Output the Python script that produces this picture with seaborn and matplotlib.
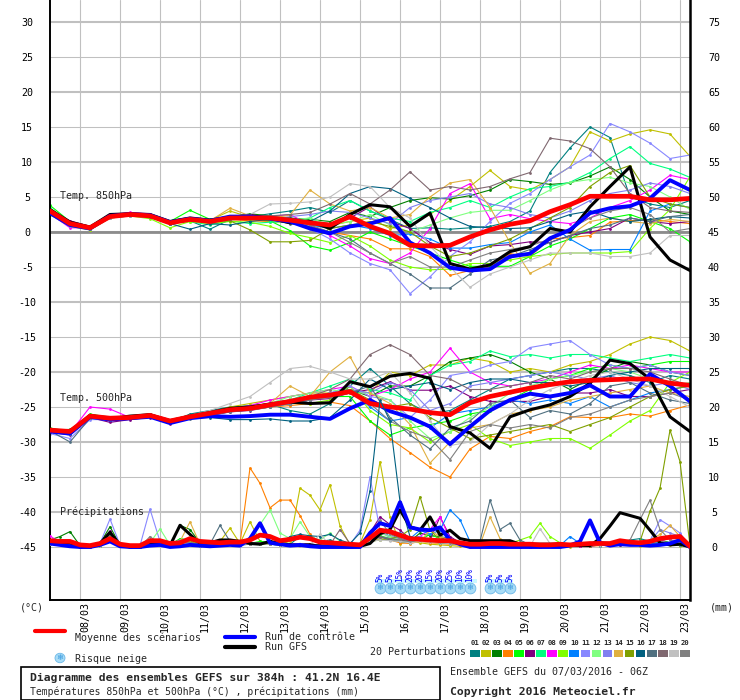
import numpy as np
import pandas as pd
import matplotlib
matplotlib.use("Agg")
import matplotlib.pyplot as plt
import seaborn as sns
from matplotlib.patches import Rectangle, Circle
from matplotlib.lines import Line2D

# ---------------- data ----------------
hours12 = list(range(0, 385, 12))   # 07/03 06Z + n*12h
hours6 = list(range(0, 385, 6))
date_labels = ['08/03', '09/03', '10/03', '11/03', '12/03', '13/03', '14/03', '15/03',
               '16/03', '17/03', '18/03', '19/03', '20/03', '21/03', '22/03', '23/03']
day_hours = [18 + 24 * d for d in range(16)]
members = ['01', '02', '03', '04', '05', '06', '07', '08', '09', '10',
           '11', '12', '13', '14', '15', '16', '17', '18', '19', '20']
member_colors = ['#008080', '#c0c000', '#008000', '#ff8000', '#00ff00', '#800080', '#00ff80',
                 '#ff00ff', '#80ff00', '#0080ff', '#8888ff', '#80ff80', '#8080f0', '#e0b040',
                 '#80a000', '#006080', '#507080', '#806870', '#c0c0c0', '#808080']

# Temp 850 hPa (12h)
t850_mean = [3.0,1.2,0.6,2.2,2.5,2.3,1.3,1.8,1.5,2.0,2.0,2.0,1.7,1.3,1.0,2.2,0.8,-0.2,-1.9,-2.0,-1.9,-0.7,0.3,1.1,1.6,2.9,3.9,5.1,5.1,5.1,4.6,4.6,4.8]
t850_ctrl = [2.7,1.0,0.5,2.3,2.5,2.4,1.4,1.9,1.6,2.2,2.2,1.9,1.5,0.5,-0.2,0.8,1.2,2.0,-1.5,-3.0,-5.1,-5.5,-5.3,-3.5,-3.1,-0.9,0.3,2.7,3.4,3.7,4.8,7.4,6.0]
t850_gfs = [3.2,1.4,0.7,2.5,2.6,2.5,1.5,2.0,1.7,2.1,2.3,2.0,1.3,1.5,0.5,2.5,3.9,3.6,0.8,2.7,-4.5,-5.3,-4.7,-2.8,-2.1,0.5,0.0,3.6,6.5,9.3,-0.7,-4.0,-5.5]
t850_p01 = [3.2,1.0,0.5,2.4,2.6,2.2,1.2,1.6,0.4,1.8,2.2,2.6,3.0,3.5,2.8,4.5,3.0,1.8,0.5,0.6,0.4,0.6,0.8,1.5,3.0,8.5,12.0,15.0,13.5,5.0,4.0,3.5,4.5]
t850_p02 = [3.4,1.3,0.8,2.3,2.7,2.4,1.5,2.0,1.7,3.0,2.1,1.6,1.8,1.2,0.9,1.5,2.0,0.5,1.0,2.5,4.5,6.5,8.8,6.5,6.0,7.5,9.3,14.3,13.0,14.0,14.6,14.0,10.8]
t850_p03 = [3.0,1.2,0.7,2.2,2.4,2.3,1.4,2.0,1.6,2.1,2.6,2.3,2.0,1.8,1.5,2.8,2.2,3.5,4.5,4.9,4.7,5.2,6.0,7.5,7.2,6.8,7.0,8.0,9.3,7.5,5.0,3.0,2.5]
t850_p04 = [2.8,1.0,0.3,2.0,2.3,2.2,1.1,1.7,1.3,1.8,1.6,1.5,1.3,0.8,0.0,-0.5,-1.0,-2.4,-2.4,-3.5,-6.2,-5.5,-5.0,-3.1,-3.5,-1.0,-0.8,-0.5,1.4,1.6,1.8,1.5,1.2]
t850_p05 = [3.8,1.5,0.6,2.4,2.6,2.2,1.5,3.1,1.8,2.2,1.8,1.6,0.2,-2.0,-2.6,-1.5,0.0,-1.0,-2.0,-3.0,-4.0,-4.9,-4.9,-4.9,-3.5,-2.0,-1.0,0.5,2.0,2.5,1.5,0.5,-1.4]
t850_p06 = [3.1,1.6,0.8,2.2,2.5,2.3,1.3,1.9,1.5,2.2,2.5,2.1,1.8,1.5,1.2,2.0,3.6,1.5,0.5,-1.5,-2.5,-3.2,-2.0,-1.8,-1.4,-1.5,-0.5,0.0,0.5,2.0,1.5,1.2,1.5]
t850_p07 = [3.5,1.1,0.5,2.1,2.5,2.2,1.3,1.5,1.0,1.6,1.2,1.4,1.5,2.0,3.5,4.5,3.0,2.0,1.5,2.8,3.5,4.5,3.5,5.0,6.2,6.5,7.1,8.5,10.5,12.2,9.8,9.0,7.8]
t850_p08 = [2.6,0.6,0.6,2.5,2.8,2.6,1.3,1.8,1.6,2.2,2.4,2.2,2.5,1.0,-0.5,-2.0,-3.8,-4.5,-3.0,0.5,5.5,6.9,1.9,2.5,1.9,1.5,1.2,2.0,3.5,4.5,6.0,8.1,7.5]
t850_p09 = [2.5,0.8,0.3,2.0,2.3,1.9,0.6,1.5,1.2,1.5,1.4,0.8,-0.2,-0.8,-1.5,-0.5,-2.0,-4.0,-5.0,-5.4,-5.3,-4.5,-4.5,-4.0,-3.5,-3.2,-3.0,-3.0,-3.0,-2.8,0.5,3.2,7.9]
t850_p10 = [3.0,1.1,0.4,2.2,2.5,2.3,1.3,1.8,1.5,2.0,2.3,2.0,1.7,1.0,0.5,1.0,0.5,-0.5,-0.3,-1.0,-2.3,-2.3,-1.8,-1.5,0.0,1.0,-1.0,-2.6,-2.5,-2.5,3.0,4.0,3.5]
t850_p11 = [2.9,0.9,0.6,2.3,2.6,2.2,1.2,1.8,1.4,2.2,2.3,1.9,1.6,0.5,-1.0,-3.0,-4.5,-5.4,-8.8,-6.4,-3.5,-1.4,1.5,4.1,5.5,7.5,9.3,11.0,15.5,14.3,12.7,10.5,11.0]
t850_p12 = [3.3,1.3,0.8,2.4,2.5,2.5,1.4,1.9,1.7,2.3,2.0,2.1,1.7,2.0,1.0,1.5,2.5,1.0,0.0,1.0,2.0,2.8,3.1,3.1,4.5,6.0,7.1,7.5,7.8,7.0,6.5,5.0,3.2]
t850_p13 = [2.7,1.0,0.4,2.0,2.3,2.1,1.2,1.7,1.3,1.9,2.1,1.8,2.2,2.5,3.0,2.8,2.0,1.2,3.5,4.5,5.0,5.5,4.0,3.5,2.5,2.0,3.0,4.5,5.5,6.0,7.0,6.5,5.5]
t850_p14 = [3.1,1.3,0.6,2.3,2.6,2.4,1.5,2.0,1.6,3.4,2.3,2.0,2.4,6.0,4.0,3.0,3.5,2.0,2.5,5.0,7.0,7.5,3.5,-1.5,-5.9,-4.5,-0.5,1.5,2.0,1.5,1.2,1.8,1.5]
t850_p15 = [3.0,1.2,0.7,2.2,2.4,2.3,1.3,1.8,1.5,1.6,0.3,-1.4,-1.4,-1.2,0.5,1.0,1.5,0.8,0.0,-2.0,-3.5,-3.0,-2.0,-1.0,0.5,2.0,3.5,6.5,8.5,9.5,5.0,4.0,3.5]
t850_p16 = [2.9,1.1,0.6,2.2,2.4,2.3,1.2,0.4,1.2,1.0,1.5,1.8,2.0,1.5,3.0,5.5,6.5,6.2,4.8,3.5,2.0,0.8,0.6,0.5,0.6,1.5,2.5,3.0,2.0,1.5,1.8,2.2,2.0]
t850_p17 = [3.0,1.2,0.6,2.1,2.4,2.2,1.2,1.7,1.4,1.9,2.0,1.8,1.2,0.8,0.0,-1.0,-3.0,-4.5,-6.0,-8.0,-8.0,-6.0,-4.0,-3.5,-2.5,-1.5,-0.5,0.5,1.0,2.0,1.5,2.2,2.5]
t850_p18 = [3.2,1.4,0.8,2.4,2.6,2.5,1.4,1.9,1.6,2.1,2.2,2.3,2.5,2.8,4.0,5.5,4.0,6.0,8.6,6.0,6.5,6.0,6.5,7.6,8.5,13.4,13.0,11.9,9.3,5.5,3.5,3.0,2.8]
t850_p19 = [3.0,1.2,0.6,2.2,2.5,2.3,1.4,1.9,1.6,2.1,2.5,4.0,4.1,4.3,5.0,6.9,6.5,3.5,2.0,-2.0,-5.0,-7.9,-6.0,-5.0,-4.0,-3.0,-3.0,-3.0,-3.5,-3.5,-3.0,-0.5,-0.5]
t850_p20 = [2.9,1.1,0.5,2.2,2.5,2.3,1.3,1.7,1.5,2.0,2.0,1.9,1.5,1.0,0.0,-1.5,-3.0,-4.5,-3.5,-5.0,-5.0,-4.0,-3.0,-2.5,-2.0,-1.0,0.5,2.0,3.0,3.5,2.5,0.0,0.5]

# Temp 500 hPa (12h)
t500_mean = [-28.3,-28.5,-26.3,-26.6,-26.5,-26.2,-27.0,-26.4,-25.9,-25.4,-25.2,-24.7,-24.2,-23.6,-23.3,-22.8,-24.5,-25.0,-25.3,-25.8,-26.1,-24.4,-23.5,-22.9,-22.3,-21.8,-21.4,-21.2,-21.1,-21.0,-21.0,-21.6,-21.9]
t500_ctrl = [-28.5,-28.8,-26.4,-26.8,-26.6,-26.4,-27.3,-26.6,-26.3,-26.4,-26.3,-26.1,-26.1,-26.4,-26.7,-25.2,-24.0,-25.6,-26.5,-27.8,-30.3,-27.8,-25.5,-24.0,-23.1,-23.5,-23.0,-21.9,-23.5,-23.5,-20.3,-22.0,-24.2]
t500_gfs = [-28.4,-28.6,-26.2,-26.7,-26.3,-26.1,-27.0,-26.3,-25.8,-25.2,-25.0,-24.6,-24.3,-24.5,-24.4,-21.4,-22.1,-20.6,-20.2,-20.9,-27.8,-28.7,-30.9,-26.4,-25.4,-24.7,-23.5,-21.6,-18.3,-18.8,-21.0,-26.4,-28.5]
t500_p01 = [-28.4,-28.9,-26.5,-26.8,-26.4,-26.0,-27.2,-26.0,-25.5,-25.0,-24.8,-24.6,-25.5,-26.0,-24.5,-22.0,-19.5,-22.0,-24.5,-26.0,-25.5,-24.0,-22.5,-21.0,-20.5,-20.0,-19.5,-19.5,-20.0,-20.5,-21.5,-20.5,-21.0]
t500_p02 = [-28.2,-28.4,-26.2,-26.4,-26.3,-26.0,-26.8,-26.2,-25.8,-25.0,-24.5,-24.0,-23.5,-23.0,-23.0,-22.5,-23.0,-20.0,-20.5,-19.0,-19.0,-18.0,-18.5,-20.0,-19.5,-20.0,-19.0,-18.5,-17.5,-16.0,-15.0,-15.5,-17.0]
t500_p03 = [-28.3,-28.2,-26.3,-26.7,-26.6,-26.3,-27.0,-26.4,-25.9,-25.5,-25.0,-24.5,-24.0,-23.5,-23.0,-22.5,-23.5,-22.0,-22.0,-20.5,-18.5,-18.0,-17.5,-18.5,-20.0,-21.0,-22.5,-21.0,-19.5,-18.5,-19.0,-20.0,-20.5]
t500_p04 = [-28.5,-28.8,-26.5,-26.8,-26.6,-26.3,-27.3,-26.6,-26.1,-25.6,-25.4,-25.0,-24.8,-24.5,-24.3,-24.8,-27.0,-29.5,-31.5,-33.6,-35.0,-31.0,-29.2,-29.5,-28.5,-27.8,-26.4,-26.5,-26.5,-26.0,-26.3,-25.5,-24.7]
t500_p05 = [-28.0,-28.5,-26.0,-26.5,-26.4,-26.0,-27.1,-26.3,-25.7,-25.2,-25.0,-24.8,-24.3,-23.8,-23.5,-23.5,-27.0,-29.0,-28.0,-27.5,-27.0,-26.0,-25.5,-24.0,-22.5,-21.0,-20.5,-19.5,-19.0,-19.5,-19.0,-18.5,-18.5]
t500_p06 = [-28.6,-29.0,-26.5,-27.2,-26.8,-26.5,-27.4,-26.6,-26.2,-25.7,-25.5,-25.0,-24.5,-24.0,-23.8,-23.0,-22.5,-21.4,-22.6,-22.6,-22.0,-23.5,-24.2,-24.2,-24.2,-23.5,-23.0,-23.0,-22.5,-23.5,-23.5,-23.0,-22.5]
t500_p07 = [-28.2,-28.6,-26.2,-26.4,-26.4,-26.1,-26.9,-26.2,-25.8,-25.2,-24.9,-24.5,-24.0,-23.0,-22.0,-21.0,-22.5,-23.0,-24.0,-20.5,-19.0,-18.5,-17.0,-17.8,-17.5,-18.0,-17.5,-17.5,-18.0,-18.5,-18.0,-17.5,-18.0]
t500_p08 = [-28.3,-28.7,-25.0,-25.3,-26.5,-26.0,-26.8,-26.3,-25.8,-25.3,-24.8,-24.0,-23.5,-23.0,-22.5,-22.0,-23.5,-22.5,-21.0,-20.0,-16.6,-20.0,-21.5,-22.0,-21.5,-21.0,-20.0,-19.0,-19.5,-19.0,-19.5,-20.0,-20.0]
t500_p09 = [-28.5,-28.9,-26.5,-26.8,-26.6,-26.3,-27.3,-26.6,-26.1,-25.6,-25.4,-25.0,-24.5,-24.5,-24.0,-22.0,-25.5,-27.5,-28.0,-30.0,-28.5,-27.5,-29.5,-30.5,-30.0,-29.5,-29.5,-30.9,-29.0,-27.0,-25.5,-21.5,-20.0]
t500_p10 = [-28.4,-28.8,-26.4,-26.7,-26.5,-26.2,-27.1,-26.4,-25.9,-25.4,-25.2,-24.8,-24.6,-24.0,-23.3,-22.5,-25.0,-27.0,-26.5,-28.0,-26.0,-25.5,-25.0,-24.0,-24.5,-24.0,-24.5,-23.5,-25.0,-24.0,-23.0,-22.5,-22.0]
t500_p11 = [-28.8,-29.5,-26.8,-26.8,-26.5,-26.2,-27.0,-26.5,-26.0,-25.6,-25.4,-25.0,-24.5,-24.0,-23.0,-22.0,-23.5,-24.0,-26.5,-24.0,-20.5,-20.0,-19.0,-18.5,-16.5,-16.0,-15.5,-17.5,-19.0,-19.5,-19.0,-20.0,-20.5]
t500_p12 = [-28.3,-28.6,-26.3,-26.6,-26.5,-26.2,-27.0,-26.4,-25.8,-25.3,-25.0,-24.5,-23.5,-23.0,-22.5,-23.0,-23.0,-24.0,-27.0,-29.5,-28.5,-26.5,-25.0,-23.0,-22.0,-21.0,-20.5,-20.0,-19.5,-20.0,-21.0,-22.0,-21.5]
t500_p13 = [-28.4,-28.7,-26.4,-26.7,-26.5,-26.2,-27.1,-26.5,-25.9,-25.4,-25.1,-24.6,-24.2,-23.5,-23.0,-22.5,-23.0,-21.5,-22.5,-25.5,-24.5,-22.0,-21.5,-21.0,-20.5,-20.0,-20.5,-21.0,-20.5,-21.5,-22.0,-21.5,-22.5]
t500_p14 = [-28.3,-28.6,-26.2,-26.5,-26.4,-26.1,-26.9,-26.3,-25.8,-25.3,-25.0,-24.5,-22.0,-23.5,-20.0,-17.8,-23.0,-24.5,-27.5,-33.0,-30.0,-28.0,-27.5,-26.0,-25.5,-25.0,-24.0,-23.5,-23.0,-22.5,-22.0,-23.0,-23.5]
t500_p15 = [-28.2,-28.5,-26.2,-26.5,-26.4,-26.0,-26.9,-26.3,-25.8,-25.4,-25.1,-24.7,-24.3,-23.8,-23.3,-22.5,-24.0,-25.0,-24.5,-26.5,-28.0,-29.5,-29.0,-28.5,-28.0,-27.5,-28.5,-27.5,-26.5,-25.0,-23.5,-22.5,-22.0]
t500_p16 = [-28.5,-28.9,-26.5,-26.9,-26.6,-26.3,-27.2,-26.6,-26.5,-26.8,-26.8,-26.7,-27.0,-27.0,-26.5,-24.0,-21.0,-22.5,-22.0,-21.5,-22.5,-21.5,-21.0,-21.0,-21.5,-21.5,-22.0,-21.5,-20.5,-20.0,-19.5,-19.5,-19.5]
t500_p17 = [-28.4,-30.0,-26.6,-26.8,-26.6,-26.4,-27.3,-26.7,-26.2,-25.7,-25.4,-25.0,-24.5,-24.0,-23.5,-23.0,-22.0,-26.5,-29.0,-31.0,-28.0,-27.0,-24.5,-24.0,-26.5,-25.5,-26.0,-24.5,-22.0,-21.5,-23.0,-24.0,-24.5]
t500_p18 = [-28.3,-28.6,-26.3,-26.6,-26.4,-26.1,-26.9,-26.3,-25.8,-25.3,-25.0,-24.4,-24.0,-23.5,-22.5,-21.0,-17.5,-16.1,-17.5,-20.5,-21.0,-22.5,-22.5,-22.0,-21.5,-20.5,-21.0,-20.0,-19.5,-19.5,-20.0,-21.0,-22.0]
t500_p19 = [-28.3,-28.5,-26.2,-26.4,-26.3,-26.0,-26.8,-26.2,-25.5,-24.5,-23.5,-21.5,-19.5,-19.2,-20.0,-21.0,-21.0,-20.0,-23.0,-27.0,-30.5,-30.0,-27.5,-26.0,-24.0,-22.5,-21.5,-20.5,-20.0,-21.0,-22.0,-23.5,-25.0]
t500_p20 = [-28.4,-28.8,-26.5,-26.8,-26.6,-26.3,-27.2,-26.6,-26.1,-25.6,-25.3,-24.9,-24.5,-24.0,-23.6,-23.0,-24.5,-27.0,-28.5,-29.5,-32.5,-28.5,-27.5,-28.0,-27.5,-28.0,-26.5,-26.0,-25.0,-24.0,-23.5,-23.0,-24.0]

# Precipitation mm (6h)
pr_mean = [0.9,0.8,0.8,0.3,0.2,0.5,1.2,0.4, 0.2,0.2,0.9,0.9,0.5,0.6,1.2,0.8, 0.7,0.6,0.7,0.7,1.0,1.7,1.5,0.9, 1.1,1.4,1.2,0.7,0.6,0.5,0.4,0.3, 1.3,2.4,2.2,1.7,1.2,1.1,1.0,0.9, 0.9,0.6,0.4,0.4,0.5,0.5,0.4,0.4, 0.4,0.3,0.3,0.4,0.3,0.4,0.5,0.5, 0.5,0.9,0.7,0.6,0.8,1.2,1.4,1.5, 0.1]
pr_ctrl = [0.5,0.3,0.1,0,0,0.3,0.8,0.1, 0,0,0.2,0.3,0,0.1,0.3,0.2, 0.1,0.2,0.3,0.2,1.2,3.4,0.6,0.4, 0.2,0.3,0.1,0,0,0,0,0, 2.0,3.4,3.0,6.4,2.8,2.5,2.4,2.8, 1.0,0.4,0,0,0,0,0,0, 0,0,0,0,0.2,0.8,3.8,0.6, 0.2,0.4,0.3,0.3,0.2,0.3,0.5,1.0, 0]
pr_gfs = [0.6,0.5,0.6,0,0,0.5,2.1,0.3, 0,0,0.5,0.4,0.2,3.1,1.8,0.5, 0.6,1.0,1.0,0.8,0.5,0.4,0.8,0.5, 0.3,0.2,0.3,0.1,0.1,0.1,0,0.1, 0.5,1.9,2.5,5.3,2.9,2.4,4.3,1.7, 2.4,1.2,0.9,0.9,0.9,0.9,0.9,0.4, 0.4,0.4,0.4,0.4,0.2,0.2,0.2,1.2, 3.0,4.9,4.5,4.1,2.4,0.6,0.3,0.4, 0]
pr_p01 = [0.8,0.6,0.5,0,0,0.3,1.2,0.2, 0,0,0.6,0.5,0.2,0.8,0.6,0.3, 0.4,0.3,0.5,0.3,0.6,0.5,0.4,0.3, 0.4,1.5,1.2,0.8,1.0,0.5,0.3,0.2, 1.0,2.5,1.5,0.8,1.2,1.0,0.8,1.5, 1.2,0.5,0.3,0.2,0.5,0.3,0.2,0.1, 0,0,0.2,0.1,0.3,0.5,0.2,0.3, 0.6,0.4,1.0,1.2,0.8,0.5,0.4,0.3, 0]
pr_p02 = [0.5,0.4,0.3,0,0,0.2,0.8,0.1, 0,0.1,0.5,0.3,0.2,0.6,0.4,0.2, 0.3,0.8,2.7,0.5,3.6,0.8,0.5,0.4, 0.8,8.4,7.4,5.3,8.9,3.0,0.3,0.5, 3.9,12.2,4.3,0.5,0.8,0.6,0.4,0.3, 0.2,0.1,0,0,0.3,0.5,0.2,0, 0,0.2,0.1,0,0,0.3,0.4,0.2, 0.3,0.5,0.4,0.2,0.3,0.5,0.3,0.2, 0]
pr_p03 = [1.0,1.5,2.2,0.2,0,0.5,2.9,0.3, 0,0.1,1.0,0.6,0.4,3.1,2.5,0.6, 0.5,0.6,0.8,0.4,0.5,0.6,0.8,0.5, 0.3,0.5,0.4,0.3,0.2,0.3,0.2,0.4, 1.0,1.8,2.0,1.2,0.8,2.0,1.6,1.5, 0.6,0.4,0.2,0.1,0.3,0.2,0.1,0, 0,0,0.1,0.3,0.4,0.2,0.5,0.3, 0.4,0.3,0.6,0.5,0.8,1.0,0.6,0.4, 0]
pr_p04 = [0.6,0.5,0.4,0,0,0.2,0.9,0.2, 0,0,0.4,0.3,0.2,0.5,0.8,0.3, 0.4,0.5,0.6,0.5,11.3,9.1,5.6,6.7, 6.7,4.5,1.8,0.6,0.4,0.3,0.2,0.1, 0.8,1.5,1.0,0.6,0.5,0.8,0.6,0.5, 0.4,0.3,0.2,0.1,0.2,0.3,0.1,0, 0,0,0.1,0.2,0.3,0.2,0.1,0.2, 0.3,0.5,0.4,0.3,0.5,0.6,0.4,0.3, 0]
pr_p05 = [0.7,0.8,0.6,0,0,0.3,1.5,0.2, 0,0.1,0.8,0.6,0.3,1.2,1.0,0.4, 0.3,0.4,0.5,0.3,0.5,0.8,0.6,0.4, 0.3,0.4,0.3,0.2,0.3,0.2,0.1,0.2, 0.8,1.6,1.2,1.0,0.6,1.0,1.8,1.2, 0.8,0.5,0.3,0.2,0.4,0.3,0.5,0.3, 0.2,0.3,0.1,0.2,0.4,0.5,0.6,0.4, 0.5,0.6,0.8,0.5,0.7,0.9,0.6,0.5, 0]
pr_p06 = [0.9,0.6,0.5,0,0,0.3,2.3,0.1, 0,0,0.5,0.4,0.3,0.9,0.7,0.3, 0.3,0.4,0.5,0.4,0.4,0.6,0.5,0.3, 0.4,0.5,0.4,0.3,0.2,0.3,0.2,0.5, 2.0,4.3,3.2,2.4,1.2,1.5,1.0,4.3, 1.5,0.6,0.3,0.2,0.4,0.2,0.1,0, 0,0.2,0.1,0.3,0.3,0.2,0.1,0.3, 0.4,0.3,0.5,0.4,0.6,0.7,0.5,0.4, 0]
pr_p07 = [0.5,0.4,0.4,0,0,0.2,1.0,0.2, 0,0,0.4,0.3,0.2,0.7,0.5,0.2, 0.3,0.3,0.4,0.3,0.4,0.5,0.4,0.3, 0.3,0.4,0.3,0.2,0.3,0.2,0.2,0.3, 0.9,1.2,1.5,1.0,0.8,1.2,1.0,0.9, 0.6,0.4,0.3,0.2,0.3,0.2,0.2,0.1, 0.1,0.2,0.3,0.2,0.4,0.5,0.3,0.2, 0.3,0.4,0.5,0.4,0.6,0.8,0.5,0.4, 0]
pr_p08 = [1.6,0.6,0.5,0,0,0.3,1.5,0.2, 0,0,0.5,0.4,0.2,0.8,0.6,0.3, 0.4,0.3,0.5,0.4,0.5,0.6,0.5,0.4, 0.3,0.4,0.3,0.2,0.3,0.2,0.2,0.4, 1.0,2.0,1.5,1.2,1.0,1.5,2.5,4.3, 1.2,0.5,0.3,0.2,0.3,0.2,0.1,0.1, 0,0.1,0.2,0.3,0.3,0.2,0.2,0.3, 0.5,0.4,0.6,0.5,0.7,0.9,1.2,1.8, 0]
pr_p09 = [0.6,0.5,0.4,0,0,0.2,1.2,0.2, 0,0,0.5,0.4,0.3,0.9,0.7,0.3, 0.4,0.5,1.0,0.5,0.6,0.5,0.4,0.3, 0.3,0.4,0.3,0.2,0.3,0.2,0.2,0.3, 0.8,1.2,1.0,0.8,0.6,0.9,0.8,0.6, 0.5,0.4,0.3,0.2,0.4,0.3,0.5,1.0, 1.5,3.4,1.5,0.6,0.4,0.5,0.3,0.4, 0.3,0.5,0.4,0.3,0.5,0.6,0.4,0.3, 0]
pr_p10 = [0.5,0.4,0.4,0,0,0.2,1.0,0.2, 0,0,0.4,0.3,0.2,0.7,0.5,0.2, 0.3,0.4,0.4,0.3,0.5,0.5,0.4,0.3, 0.3,0.3,0.3,0.2,0.2,0.2,0.2,0.3, 1.2,1.5,1.0,2.0,1.2,2.4,1.8,2.4, 5.3,3.9,0.8,0.3,0.2,0.3,0.2,0.1, 0.1,0.2,0.3,0.2,1.5,0.5,0.3,0.4, 0.3,0.4,0.5,0.4,0.5,0.7,0.4,0.3, 0]
pr_p11 = [0.5,0.5,0.4,0,0,0.5,4.0,0.3, 0,0.2,5.4,0.8,0.4,1.0,0.6,0.3, 0.3,0.4,0.5,0.3,0.4,0.5,0.5,0.4, 0.3,0.4,0.3,0.2,0.3,0.2,0.3,2.4, 10.0,2.4,1.5,1.0,0.8,1.0,0.8,0.7, 0.5,0.4,0.3,0.2,0.3,0.2,0.2,0.1, 0.1,0.2,0.2,0.3,0.4,0.5,0.3,0.4, 0.5,0.6,0.8,0.6,0.9,3.9,3.0,2.0, 0]
pr_p12 = [0.6,0.5,0.5,0,0,0.3,1.3,0.2, 0,0,0.6,2.6,0.3,0.8,0.6,0.3, 0.4,0.5,0.6,0.5,0.6,3.2,5.3,2.0, 1.2,3.6,1.5,1.0,2.0,0.8,0.4,0.3, 1.2,2.0,1.5,1.0,0.8,1.2,0.8,0.6, 0.5,0.4,0.3,0.2,0.3,0.2,0.2,0.1, 0.1,0.2,0.2,0.3,0.3,0.4,0.3,0.3, 0.4,0.5,0.6,0.5,0.7,0.8,0.5,0.4, 0]
pr_p13 = [0.5,0.4,0.4,0,0,0.2,1.1,0.2, 0,0,0.5,0.4,0.2,0.7,0.5,0.2, 0.3,0.3,0.4,0.3,0.4,0.5,0.4,0.3, 0.3,0.4,0.3,0.2,0.3,0.2,0.2,0.3, 1.5,1.2,1.0,0.8,0.9,1.5,1.0,0.8, 0.6,0.4,0.3,0.2,0.3,0.2,0.1,0.1, 0.1,0.2,0.3,0.2,0.3,0.4,0.3,0.2, 0.3,0.4,0.6,0.5,0.8,2.5,2.0,1.5, 0]
pr_p14 = [0.5,0.4,0.4,0,0,0.2,1.6,0.2, 0,0,0.4,0.3,0.2,0.8,3.6,0.4, 0.3,0.4,0.5,0.4,0.5,0.5,0.4,0.3, 0.3,0.4,0.3,0.2,0.3,0.2,0.2,0.3, 0.8,1.2,1.0,0.8,0.6,0.8,2.4,1.5, 1.0,0.6,0.4,0.3,4.3,1.2,0.3,0.1, 0.1,0.2,0.2,0.3,0.3,0.4,0.5,0.3, 0.4,0.5,0.6,0.5,1.0,1.8,3.1,1.5, 0]
pr_p15 = [0.5,0.4,0.4,0,0,0.2,1.0,0.2, 0,0,0.4,0.3,0.2,0.7,0.5,0.2, 0.3,0.3,0.4,0.3,0.4,0.5,0.4,0.3, 0.3,0.4,0.3,0.2,0.3,0.2,0.2,0.3, 0.8,1.0,1.2,1.5,2.5,7.2,2.4,1.0, 0.6,0.4,0.3,0.2,0.3,0.2,0.1,0.1, 0.1,0.2,0.2,0.3,0.3,0.3,0.2,0.3, 0.4,0.5,0.6,0.8,5.1,8.4,16.7,12.2, 0.2]
pr_p16 = [0.6,0.5,0.5,0,0,0.3,1.2,0.2, 0,0,0.5,0.4,0.3,0.8,0.6,0.3, 0.4,0.5,0.6,0.4,0.5,0.6,0.6,0.5, 1.5,1.8,1.6,1.5,1.8,1.0,0.5,2.0, 8.0,21.0,18.0,6.5,1.5,1.0,0.8,0.6, 0.5,0.4,0.3,0.2,0.3,0.2,0.2,0.1, 0.1,0.2,0.2,0.3,0.3,0.5,0.3,0.3, 0.4,0.5,0.6,0.5,0.7,0.8,0.5,0.4, 0]
pr_p17 = [0.6,0.5,0.4,0,0,0.3,1.8,0.2, 0,0,0.5,0.4,0.3,0.8,0.6,0.3, 0.4,3.1,0.8,0.5,0.5,0.6,0.5,0.4, 0.3,0.4,0.3,0.2,0.3,0.2,0.2,0.4, 1.0,1.5,1.0,0.8,0.6,1.2,0.8,0.7, 0.6,0.5,0.4,0.8,6.7,2.5,3.4,1.0, 0.3,0.2,0.2,0.3,0.3,0.4,0.3,0.3, 0.4,0.5,0.6,0.5,0.7,0.9,0.6,0.5, 0]
pr_p18 = [0.6,0.5,0.4,0,0,0.3,2.0,0.2, 0,0,0.5,0.4,0.3,0.8,0.6,0.3, 0.4,0.5,0.5,0.4,0.5,0.6,0.5,0.4, 0.3,0.4,0.3,0.2,0.3,2.5,0.5,0.4, 1.0,1.5,1.2,1.0,0.8,1.0,0.8,0.7, 0.5,0.4,0.3,0.2,0.3,0.2,0.2,0.1, 0.1,0.2,0.2,0.3,0.3,0.3,0.3,0.3, 0.4,0.5,0.6,0.5,0.7,0.8,0.5,0.4, 0]
pr_p19 = [0.5,0.4,0.4,0,0,0.2,1.0,0.2, 0,0,0.4,0.3,0.2,0.6,0.5,0.2, 0.3,0.4,0.4,0.3,0.4,0.5,0.4,0.3, 0.3,0.4,0.3,1.8,0.3,0.2,0.2,0.3, 0.8,1.0,0.9,0.8,0.6,0.8,0.7,0.6, 0.5,0.4,0.3,0.2,0.3,0.2,0.2,0.1, 0.1,2.6,0.5,0.3,0.3,0.3,0.3,0.3, 0.4,0.5,0.6,0.5,0.7,0.8,0.5,0.4, 0]
pr_p20 = [0.6,0.5,0.4,0,0,0.3,1.4,0.2, 0,0,1.5,0.4,0.3,0.9,0.6,0.3, 0.4,0.5,0.6,0.4,0.5,0.6,0.5,0.4, 0.3,0.4,0.3,0.2,0.3,0.2,0.2,0.5, 1.5,3.9,1.8,1.2,0.8,1.0,0.8,0.7, 0.6,0.5,0.4,0.3,0.5,0.4,0.3,0.2, 0.2,0.3,0.3,0.4,0.5,0.6,0.5,0.8, 0.6,0.8,1.0,3.9,6.7,2.5,1.0,0.6, 0]

# snow risk
snow_hours = [198, 204, 210, 216, 222, 228, 234, 240, 246, 252, 264, 270, 276]
snow_pct = ['5%', '5%', '15%', '20%', '20%', '15%', '20%', '25%', '10%', '10%', '5%', '5%', '5%']

t850_members = [t850_p01, t850_p02, t850_p03, t850_p04, t850_p05, t850_p06, t850_p07, t850_p08, t850_p09, t850_p10,
                t850_p11, t850_p12, t850_p13, t850_p14, t850_p15, t850_p16, t850_p17, t850_p18, t850_p19, t850_p20]
t500_members = [t500_p01, t500_p02, t500_p03, t500_p04, t500_p05, t500_p06, t500_p07, t500_p08, t500_p09, t500_p10,
                t500_p11, t500_p12, t500_p13, t500_p14, t500_p15, t500_p16, t500_p17, t500_p18, t500_p19, t500_p20]
pr_members = [pr_p01, pr_p02, pr_p03, pr_p04, pr_p05, pr_p06, pr_p07, pr_p08, pr_p09, pr_p10,
              pr_p11, pr_p12, pr_p13, pr_p14, pr_p15, pr_p16, pr_p17, pr_p18, pr_p19, pr_p20]

rows = []
for m, a, b in zip(members, t850_members, t500_members):
    for h, v1, v2 in zip(hours12, a, b):
        rows.append((m, h, v1, v2))
df_t = pd.DataFrame(rows, columns=['member', 'hour', 't850', 't500'])
rows = []
for m, a in zip(members, pr_members):
    for h, v in zip(hours6, a):
        rows.append((m, h, v))
df_p = pd.DataFrame(rows, columns=['member', 'hour', 'pr'])

# ---------------- figure ----------------
sns.set_theme(style='white')
plt.rcParams['font.family'] = ['DejaVu Sans Mono', 'DejaVu Sans']
plt.rcParams['axes.edgecolor'] = 'black'

W, H = 740, 700
fig = plt.figure(figsize=(7.4, 7.0), dpi=100)
fig.patch.set_facecolor('white')


def fx(px):
    return px / W


def fy(py):
    return 1 - py / H


FS = 7.2
ax = fig.add_axes([fx(50), fy(600), fx(690) - fx(50), fy(0) - fy(600)])
ylo, yhi = (232 - 600) / 7, 232 / 7
ax.set_xlim(0, 384)
ax.set_ylim(ylo, yhi)
ax.set_facecolor('white')

# grid
yt = list(range(-45, 31, 5))
for v in yt:
    ax.axhline(v, color='#c0c0c0', lw=1.5 if v % 10 == 0 else 0.75, zorder=0.5)
ax.axhline(0, color='#8c8c8c', lw=2.0, zorder=0.6)
for h in day_hours:
    ax.axvline(h, color='#c0c0c0', lw=0.8, zorder=0.4)

ax2 = ax.twinx()
ax2.set_ylim(ylo + 45, yhi + 45)

line_kw = dict(legend=False, linewidth=0.8, marker='o', markersize=2.0, markeredgewidth=0,
               errorbar=None, sort=False)
sns.lineplot(data=df_t, x='hour', y='t850', hue='member', hue_order=members, palette=member_colors,
             ax=ax, zorder=2, **line_kw)
sns.lineplot(data=df_t, x='hour', y='t500', hue='member', hue_order=members, palette=member_colors,
             ax=ax, zorder=2, **line_kw)
sns.lineplot(data=df_p, x='hour', y='pr', hue='member', hue_order=members, palette=member_colors,
             ax=ax2, zorder=2, **line_kw)

for ser, target, hrs in [(t850_gfs, ax, hours12), (t500_gfs, ax, hours12), (pr_gfs, ax2, hours6)]:
    sns.lineplot(x=hrs, y=ser, color='black', linewidth=2.2, ax=target, zorder=3, legend=False)
for ser, target, hrs in [(t850_ctrl, ax, hours12), (t500_ctrl, ax, hours12), (pr_ctrl, ax2, hours6)]:
    sns.lineplot(x=hrs, y=ser, color='#0000ff', linewidth=2.8, ax=target, zorder=4, legend=False)
for ser, target, hrs in [(t850_mean, ax, hours12), (t500_mean, ax, hours12), (pr_mean, ax2, hours6)]:
    sns.lineplot(x=hrs, y=ser, color='#ff0000', linewidth=3.4, ax=target, zorder=5, legend=False)

ax.set_xlim(0, 384)
ax.set_xlabel('')
ax.set_ylabel('')
ax2.set_ylabel('')
ax2.set_xlabel('')

# ticks
ax.set_yticks(yt, [str(v) for v in yt])
ax.tick_params(axis='y', length=0, pad=16.5, labelsize=FS, labelcolor='black')
for lab in ax.get_yticklabels():
    lab.set_horizontalalignment('center')
rt = list(range(0, 76, 5))
ax2.set_yticks(rt, [str(v) for v in rt])
ax2.tick_params(axis='y', length=0, pad=17.3, labelsize=FS, labelcolor='black')
for lab in ax2.get_yticklabels():
    lab.set_horizontalalignment('center')
ax.set_xticks(day_hours, date_labels)
ax.tick_params(axis='x', length=0, pad=1.5, labelsize=FS, labelcolor='black',
               labelbottom=True, bottom=True)
for lab in ax.get_xticklabels():
    lab.set_rotation(90)
    lab.set_horizontalalignment('left')
    lab.set_verticalalignment('top')

for a in (ax, ax2):
    a.spines['top'].set_visible(False)
ax.spines['left'].set_linewidth(1.4)
ax.spines['bottom'].set_linewidth(1.4)
ax.spines['right'].set_visible(False)
ax2.spines['left'].set_visible(False)
ax2.spines['bottom'].set_visible(False)
ax2.spines['right'].set_linewidth(1.8)
for s in ('left', 'bottom'):
    ax.spines[s].set_color('black')
ax2.spines['right'].set_color('black')

# snow risk strip, icons and labels
ax.add_patch(Rectangle((195, (232 - 583) / 7), 61, 4 / 7, color='#ccf6ff', zorder=6, lw=0))
ax.add_patch(Rectangle((261, (232 - 583) / 7), 17, 4 / 7, color='#ccf6ff', zorder=6, lw=0))
y_icon = (232 - 588) / 7
ax.scatter(snow_hours, [y_icon] * len(snow_hours), s=60, color='#a8dcf6', edgecolor='#6cb8e8',
           linewidth=0.6, zorder=7, clip_on=False)
for h, p in zip(snow_hours, snow_pct):
    ax.text(h, y_icon, '\u2744', family='DejaVu Sans', fontsize=6, color='#3a9ae0',
            ha='center', va='center', zorder=8)
    ax.text(h, (232 - 581.5) / 7, p, fontsize=5.6, color='#0000ff', rotation=90,
            ha='center', va='bottom', zorder=8)

# in-plot labels
fig.text(fx(60), fy(196), 'Temp. 850hPa', fontsize=FS, ha='left', va='center')
fig.text(fx(60), fy(398), 'Temp. 500hPa', fontsize=FS, ha='left', va='center')
fig.text(fx(60), fy(512), 'Précipitations', fontsize=FS, ha='left', va='center')
fig.text(fx(20), fy(607), '(°C)', fontsize=FS, ha='left', va='center')
fig.text(fx(710), fy(607), '(mm)', fontsize=FS, ha='left', va='center')

# legend
fig.add_artist(Line2D([fx(35), fx(65)], [fy(631), fy(631)], color='#ff0000', lw=3.0))
fig.text(fx(75), fy(637.5), 'Moyenne des scénarios', fontsize=FS, ha='left', va='center')
fig.add_artist(Line2D([fx(225), fx(255)], [fy(637), fy(637)], color='#0000ff', lw=3.0))
fig.text(fx(265), fy(637), 'Run de contrôle', fontsize=FS, ha='left', va='center')
fig.add_artist(Line2D([fx(225), fx(255)], [fy(647), fy(647)], color='black', lw=3.0))
fig.text(fx(265), fy(647.5), 'Run GFS', fontsize=FS, ha='left', va='center')
fig.add_artist(Circle((fx(60), fy(658)), 5 / W, transform=fig.transFigure, facecolor='#a8dcf6',
                      edgecolor='#6cb8e8', lw=0.6))
fig.text(fx(60), fy(658), '\u2744', family='DejaVu Sans', fontsize=6, color='#3a9ae0',
         ha='center', va='center')
fig.text(fx(75), fy(659), 'Risque neige', fontsize=FS, ha='left', va='center')
fig.text(fx(370), fy(652), '20 Perturbations', fontsize=FS, ha='left', va='center')
for i, (m, c) in enumerate(zip(members, member_colors)):
    x0 = 470 + 11.05 * i
    fig.add_artist(Rectangle((fx(x0), fy(657)), 9.7 / W, 7.5 / H, transform=fig.transFigure,
                             facecolor=c, edgecolor='none'))
    fig.text(fx(x0 + 4.8), fy(643), m, fontsize=5.2, fontweight='bold', ha='center', va='center')

fig.add_artist(Rectangle((fx(20.5), fy(699.5)), 419.5 / W, 32.5 / H, transform=fig.transFigure,
                         facecolor='none', edgecolor='black', lw=1.2))
fig.text(fx(30), fy(677.5), 'Diagramme des ensembles GEFS sur 384h : 41.2N 16.4E', fontsize=8.2,
         fontweight='bold', ha='left', va='center')
fig.text(fx(30), fy(691.5), 'Températures 850hPa et 500hPa (°C) , précipitations (mm)', fontsize=7.0,
         ha='left', va='center')
fig.text(fx(450), fy(672), 'Ensemble GEFS du 07/03/2016 - 06Z', fontsize=FS, ha='left', va='center')
fig.text(fx(450), fy(692), 'Copyright 2016 Meteociel.fr', fontsize=8.2, fontweight='bold',
         ha='left', va='center')

fig.savefig('out.png', dpi=100, facecolor='white')
